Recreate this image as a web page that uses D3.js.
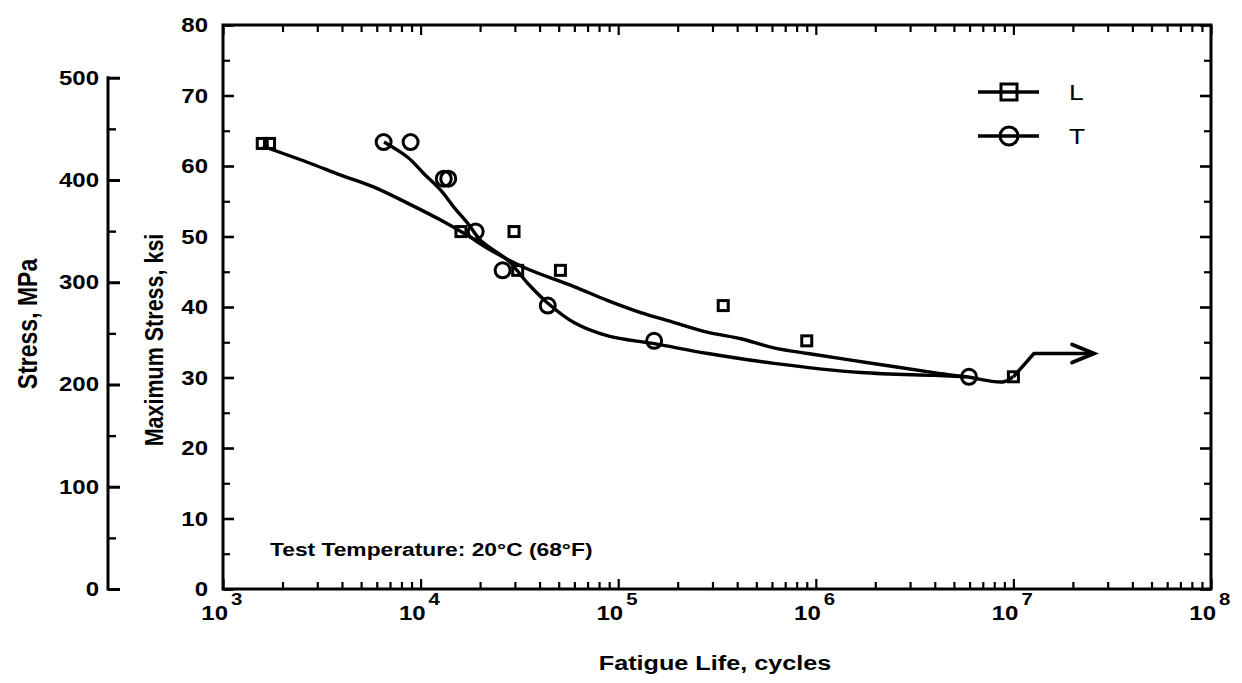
<!DOCTYPE html>
<html>
<head>
<meta charset="utf-8">
<script src="https://cdn.jsdelivr.net/npm/d3@7"></script>
<style>
body { margin: 0; background: #fff; }
svg { display: block; font-family: "Liberation Sans", Arial, Helvetica, sans-serif; }
</style>
</head>
<body>
<svg id="chart" width="1242" height="683"></svg>
<script>
'use strict';

// measured points, [cycles, ksi]
var pointsL = [[1.58e3,63.2],[1.72e3,63.2],[1.6e4,50.7],[2.97e4,50.7],[3.1e4,45.2],[5.1e4,45.2],[3.4e5,40.2],[9.0e5,35.2],[1.0e7,30.1]];
var pointsT = [[6.5e3,63.4],[8.9e3,63.4],[1.31e4,58.2],[1.38e4,58.2],[1.9e4,50.7],[2.6e4,45.2],[4.4e4,40.2],[1.52e5,35.2],[5.96e6,30.1]];

// hand drawn fit curves
var curveL = [[1.59e3,62.8],[2.69e3,60.5],[3.95e3,58.7],[5.81e3,57.0],[8.63e3,54.7],[1.27e4,52.3],[1.74e4,50.1],[2.19e4,48.3],[3.34e4,45.6],[5.97e4,42.9],[8.87e4,40.9],[1.30e5,39.2],[1.92e5,37.8],[2.85e5,36.4],[4.18e5,35.5],[6.14e5,34.2],[9.12e5,33.4],[1.84e6,32.1],[3.96e6,30.7],[5.75e6,30.1],[8.95e6,29.4],[9.95e6,30.1]];
var curveT = [[6.53e3,63.4],[8.63e3,61.2],[1.04e4,58.9],[1.27e4,56.5],[1.48e4,54.1],[1.74e4,51.8],[2.02e4,49.4],[2.77e4,46.6],[3.50e4,43.3],[4.42e4,40.5],[5.97e4,37.8],[8.87e4,35.9],[1.52e5,34.8],[2.85e5,33.4],[6.14e5,32.0],[1.69e6,30.7],[3.96e6,30.3],[5.75e6,30.1]];

// runout arrow
var runout = [[1.0e7,30.1],[1.27e7,33.4],[2.56e7,33.4]];

var xDecades = [3,4,5,6,7,8];
var ksiTicks = [0,10,20,30,40,50,60,70,80];
var mpaTicks = [0,100,200,300,400,500];
var series = [{name:'L', shape:'square'},{name:'T', shape:'circle'}];

var KSI_PER_MPA = 0.145038;
var SX = 1.2; // the scan is stretched sideways

var svg = d3.select('#chart');
var L = 223, R = 1211, T = 25, B = 589;

var x = d3.scaleLog().domain([1e3,1e8]).range([L,R]);
var y = d3.scaleLinear().domain([0,80]).range([B,T]);
var yM = function(mpa) { return y(mpa*KSI_PER_MPA); };

var minorX = [];
for (var e = 3; e < 8; e++) for (var k = 2; k <= 9; k++) minorX.push(k*Math.pow(10,e));
var majorX = xDecades.map(function(d){ return Math.pow(10,d); });

function ticksGroup(axis, tx, ty, w) {
	var g = svg.append('g').attr('transform','translate('+tx+','+ty+')').call(axis);
	g.select('.domain').remove();
	g.selectAll('line').attr('stroke','#000').attr('stroke-width',w || 2.2);
	g.selectAll('text').remove();
	return g;
}
function htext(px, py, size, anchor, weight, str) {
	return svg.append('text')
		.attr('transform','translate('+px+','+py+') scale('+SX+',1)')
		.attr('text-anchor',anchor).attr('font-size',size).attr('font-weight',weight)
		.text(str);
}
function vtext(px, py, size, str) {
	return svg.append('text')
		.attr('transform','translate('+px+','+py+') rotate(-90) scale(1,'+SX+')')
		.attr('text-anchor','middle').attr('font-size',size).attr('font-weight','bold')
		.text(str);
}

// x ticks, inward bottom and top
ticksGroup(d3.axisBottom(x).tickValues(minorX).tickSize(-7), 0, B);
ticksGroup(d3.axisBottom(x).tickValues(majorX).tickSize(-10), 0, B);
ticksGroup(d3.axisTop(x).tickValues(minorX).tickSize(-7), 0, T);
ticksGroup(d3.axisTop(x).tickValues(majorX).tickSize(-10), 0, T);

// y ticks, inward left and right
var minorY = d3.range(5,80,10);
ticksGroup(d3.axisLeft(y).tickValues(ksiTicks).tickSize(-11), L, 0, 2.6);
ticksGroup(d3.axisLeft(y).tickValues(minorY).tickSize(-7), L, 0);
ticksGroup(d3.axisRight(y).tickValues(ksiTicks).tickSize(-11), R, 0, 2.6);
ticksGroup(d3.axisRight(y).tickValues(minorY).tickSize(-7), R, 0);

// frame
svg.append('rect').attr('x',L).attr('y',T).attr('width',R-L).attr('height',B-T)
	.attr('fill','none').attr('stroke','#000').attr('stroke-width',3);

// ksi labels
ksiTicks.forEach(function(d){ htext(L-15, y(d)+7, 20, 'end', 'bold', d); });

// MPa axis
var mx = 108;
var mScale = d3.scaleLinear().domain([0,500]).range([yM(0), yM(500)]);
svg.append('line').attr('x1',mx).attr('x2',mx).attr('y1',yM(500)-1.5).attr('y2',yM(0)+1.5)
	.attr('stroke','#000').attr('stroke-width',3);
ticksGroup(d3.axisRight(mScale).tickValues(mpaTicks).tickSize(12), mx, 0, 3);
ticksGroup(d3.axisRight(mScale).tickValues(d3.range(50,500,100)).tickSize(8), mx, 0, 2.4);
mpaTicks.forEach(function(d){ htext(99, yM(d)+7, 20, 'end', 'bold', d); });

// x labels 10^n
xDecades.forEach(function(d){
	var px = x(Math.pow(10,d));
	htext(px+5, B+31, 20, 'end', 'bold', '10');
	htext(px+8, B+16, 17, 'start', 'bold', d);
});

// axis titles
htext((L+R)/2 - 2, 670, 21, 'middle', 'bold', 'Fatigue Life, cycles');
vtext(163, 340, 21.5, 'Maximum Stress, ksi');
vtext(37, 324, 23, 'Stress, MPa');

htext(270, 556, 19, 'start', 'bold', 'Test Temperature: 20°C (68°F)');

// curves
var line = d3.line().x(function(d){ return x(d[0]); }).y(function(d){ return y(d[1]); })
	.curve(d3.curveCatmullRom.alpha(0.5));
[curveL, curveT].forEach(function(c){
	svg.append('path').attr('d', line(c)).attr('fill','none')
		.attr('stroke','#000').attr('stroke-width',3.4).attr('stroke-linejoin','round');
});
svg.append('path').attr('d', d3.line().x(function(d){ return x(d[0]); }).y(function(d){ return y(d[1]); })(runout))
	.attr('fill','none').attr('stroke','#000').attr('stroke-width',3.4);
var tip = runout[runout.length-1];
svg.append('path')
	.attr('d','M'+(x(tip[0])-22)+','+(y(tip[1])-9)+'L'+x(tip[0])+','+y(tip[1])+'L'+(x(tip[0])-22)+','+(y(tip[1])+9))
	.attr('fill','none').attr('stroke','#000').attr('stroke-width',3.8).attr('stroke-linecap','round');

// markers
function drawMarker(g, shape, cx, cy, s) {
	if (shape === 'square') {
		g.append('rect').attr('x',cx-s/2).attr('y',cy-s/2).attr('width',s).attr('height',s)
			.attr('fill','none').attr('stroke','#000').attr('stroke-width',3);
	} else {
		g.append('circle').attr('cx',cx).attr('cy',cy).attr('r',s/2)
			.attr('fill','none').attr('stroke','#000').attr('stroke-width',3);
	}
}
var gp = svg.append('g');
pointsL.forEach(function(p){ drawMarker(gp, 'square', x(p[0]), y(p[1]), 10); });
pointsT.forEach(function(p){ drawMarker(gp, 'circle', x(p[0]), y(p[1]), 15); });

// legend
series.forEach(function(s, i){
	var ly = 92 + i*44;
	svg.append('line').attr('x1',978).attr('x2',1039).attr('y1',ly).attr('y2',ly)
		.attr('stroke','#000').attr('stroke-width',3.4);
	drawMarker(svg, s.shape, 1009, ly, s.shape === 'square' ? 16 : 18);
	htext(1069, ly+8, 22, 'start', 'normal', s.name);
});
</script>
</body>
</html>
